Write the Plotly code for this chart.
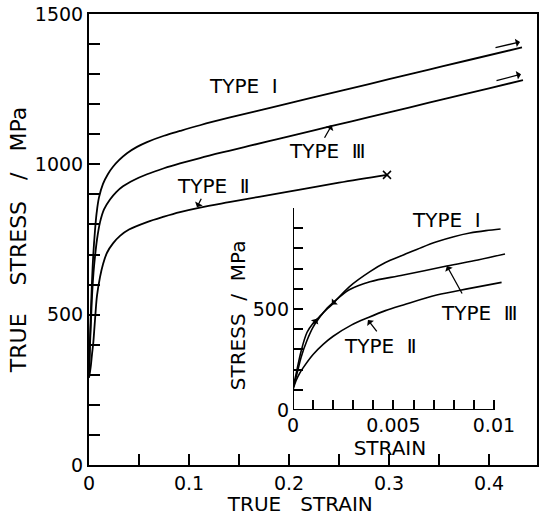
import plotly.graph_objects as go

# ---------------- data ----------------
# Main plot: true strain vs true stress (MPa)
strain_I = [0, 0.001, 0.002, 0.003, 0.0043, 0.006, 0.0077, 0.010, 0.014, 0.019, 0.024, 0.030,
            0.038, 0.048, 0.058, 0.075, 0.091, 0.111, 0.14, 0.181, 0.22, 0.26, 0.30,
            0.34, 0.38, 0.433]
stress_I = [300, 420, 520, 610, 700, 780, 840, 890, 935, 968, 992, 1014,
            1037, 1058, 1074, 1095, 1111, 1130, 1155, 1188, 1219, 1251, 1283,
            1315, 1347, 1389]

strain_III = [0, 0.001, 0.002, 0.003, 0.0045, 0.006, 0.008, 0.011, 0.015, 0.021, 0.027, 0.034,
              0.045, 0.058, 0.075, 0.091, 0.111, 0.14, 0.161, 0.181, 0.20, 0.241, 0.28, 0.32,
              0.36, 0.40, 0.434]
stress_III = [300, 400, 480, 560, 640, 693, 750, 807, 850, 883, 907, 927,
              948, 967, 987, 1003, 1021, 1045, 1062, 1078, 1093, 1126, 1157, 1189,
              1221, 1253, 1280]

strain_II = [0, 0.001, 0.002, 0.003, 0.0043, 0.0055, 0.0065, 0.008, 0.011, 0.014, 0.018, 0.024,
             0.031, 0.040, 0.058, 0.075, 0.091, 0.111, 0.14, 0.17, 0.211, 0.25, 0.298]
stress_II = [290, 310, 335, 368, 407, 460, 505, 563, 625, 668, 706, 737,
             762, 783, 808, 826, 841, 856, 874, 892, 916, 939, 965]

# Inset: small-strain region (strain vs stress)
in_strain_I = [0, 0.0002, 0.0004, 0.0007, 0.001, 0.0013, 0.0017, 0.002, 0.0028, 0.00383,
               0.0046, 0.00549, 0.0064, 0.00715, 0.0080, 0.0088, 0.0096, 0.01033]
in_stress_I = [107, 200, 290, 385, 430, 460, 500, 528, 610, 685,
               730, 767, 805, 833, 858, 876, 888, 896]

in_strain_III = [0, 0.0002, 0.0004, 0.0007, 0.001, 0.0013, 0.0017, 0.002, 0.0028, 0.00383,
                 0.00549, 0.00765, 0.0092, 0.01055]
in_stress_III = [107, 180, 260, 345, 410, 455, 505, 532, 595, 635,
                 668, 713, 743, 772]

in_strain_II = [0, 0.00015, 0.00035, 0.00051, 0.001, 0.0015, 0.002, 0.0029, 0.00375,
                0.0046, 0.00549, 0.00715, 0.0088, 0.01038]
in_stress_II = [100, 145, 185, 210, 275, 325, 365, 420, 458,
                492, 520, 569, 602, 632]

# Tick values / labels
main_xtickvals = [0, 0.05, 0.1, 0.15, 0.2, 0.25, 0.3, 0.35, 0.4]
main_xticktext = ["0", "", "0.1", "", "0.2", "", "0.3", "", "0.4"]
main_ytickvals = list(range(0, 1501, 100))
main_yticktext = [str(v) if v % 500 == 0 else "" for v in main_ytickvals]
in_xtickvals = [i * 0.001 for i in range(0, 11)]
in_xticktext = ["0", "", "", "", "", "0.005", "", "", "", "", "0.01"]
in_ytickvals = list(range(0, 1001, 100))
in_yticktext = ["0", "", "", "", "", "500", "", "", "", "", ""]

FONT = "DejaVu Sans"
NB = "\u00a0"


def pad(n):
    # trailing blank space kept inside a span so it is not trimmed
    return "<span>" + NB * n + "</span>"


fig = go.Figure()
line_style = dict(color="black", width=1.8)
fig.add_trace(go.Scatter(x=strain_I, y=stress_I, mode="lines", line=line_style,
                         line_shape="spline", name="TYPE I", xaxis="x", yaxis="y"))
fig.add_trace(go.Scatter(x=strain_III, y=stress_III, mode="lines", line=line_style,
                         line_shape="spline", name="TYPE III", xaxis="x", yaxis="y"))
fig.add_trace(go.Scatter(x=strain_II, y=stress_II, mode="lines", line=line_style,
                         line_shape="spline", name="TYPE II", xaxis="x", yaxis="y"))
fig.add_trace(go.Scatter(x=[strain_II[-1]], y=[stress_II[-1]], mode="markers",
                         marker=dict(symbol="x-thin", size=8, line=dict(color="black", width=1.5)),
                         name="fracture", xaxis="x", yaxis="y"))

in_line = dict(color="black", width=1.6)
fig.add_trace(go.Scatter(x=in_strain_I, y=in_stress_I, mode="lines", line=in_line,
                         line_shape="spline", name="TYPE I (inset)", xaxis="x2", yaxis="y2"))
fig.add_trace(go.Scatter(x=in_strain_III, y=in_stress_III, mode="lines", line=in_line,
                         line_shape="spline", name="TYPE III (inset)", xaxis="x2", yaxis="y2"))
fig.add_trace(go.Scatter(x=in_strain_II, y=in_stress_II, mode="lines", line=in_line,
                         line_shape="spline", name="TYPE II (inset)", xaxis="x2", yaxis="y2"))

tickfont = dict(family=FONT, size=19, color="black")

fig.update_layout(
    template="none",
    width=541, height=516,
    margin=dict(l=89, r=4, t=14, b=51, autoexpand=False),
    paper_bgcolor="white", plot_bgcolor="white",
    showlegend=False,
    font=dict(family=FONT, size=19, color="black"),
    xaxis=dict(range=[0, 0.448], domain=[0, 1], anchor="y", automargin=False,
               showline=True, linecolor="black", linewidth=2, mirror=True,
               ticks="inside", ticklen=11, tickwidth=1.5, tickcolor="black",
               tickvals=main_xtickvals, ticktext=main_xticktext, tickfont=tickfont,
               showgrid=False, zeroline=False,
               title=dict(text="TRUE" + NB * 3 + "STRAIN" + pad(4),
                          font=dict(family=FONT, size=20), standoff=4)),
    yaxis=dict(range=[0, 1500], domain=[0, 1], anchor="x", automargin=False,
               showline=True, linecolor="black", linewidth=2, mirror=True,
               ticks="inside", ticklen=11, tickwidth=1.5, tickcolor="black",
               tickvals=main_ytickvals, ticktext=main_yticktext, tickfont=tickfont,
               showgrid=False, zeroline=False,
               title=dict(text="TRUE" + NB * 4 + "STRESS" + NB * 3 + "/" + NB * 3 + "MPa",
                          font=dict(family=FONT, size=22), standoff=2)),
    xaxis2=dict(range=[0, 0.0106], domain=[0.45536, 0.93080], anchor="y2", automargin=False,
                showline=False, ticks="inside", ticklen=10, tickwidth=1.5, tickcolor="black",
                tickvals=in_xtickvals, ticktext=in_xticktext, tickfont=tickfont,
                ticklabelstandoff=2,
                showgrid=False, zeroline=False,
                title=dict(text="STRAIN" + pad(3), font=dict(family=FONT, size=20), standoff=0)),
    yaxis2=dict(range=[0, 1000], domain=[0.12195, 0.56984], anchor="x2", automargin=False,
                showline=False, ticks="inside", ticklen=10, tickwidth=1.5, tickcolor="black",
                tickvals=in_ytickvals, ticktext=in_yticktext, tickfont=tickfont,
                ticklabelstandoff=3,
                showgrid=False, zeroline=False,
                title=dict(text="STRESS" + NB * 2 + "/" + NB * 2 + "MPa" + pad(2),
                           font=dict(family=FONT, size=20), standoff=1)),
)

# inset axis lines (end at 0.01 and 1000)
fig.add_shape(type="line", xref="x2", yref="y2", x0=0, y0=0, x1=0.01, y1=0,
              line=dict(color="black", width=2))
fig.add_shape(type="line", xref="x2", yref="y2", x0=0, y0=0, x1=0, y1=1000,
              line=dict(color="black", width=2))

lab_font = dict(family=FONT, size=20, color="black")
labels = [
    ("x", "y", 0.154, 1260, "TYPE" + NB * 2 + "Ⅰ"),
    ("x", "y", 0.238, 1043, "TYPE" + NB * 2 + "Ⅲ"),
    ("x", "y", 0.124, 927, "TYPE" + NB * 2 + "Ⅱ"),
    ("x2", "y2", 0.00766, 940, "TYPE" + NB * 2 + "Ⅰ"),
    ("x2", "y2", 0.0093, 480, "TYPE" + NB * 2 + "Ⅲ"),
    ("x2", "y2", 0.00433, 317, "TYPE" + NB * 2 + "Ⅱ"),
]
for xr, yr, x, y, t in labels:
    fig.add_annotation(xref=xr, yref=yr, x=x, y=y, text=t, showarrow=False, font=lab_font)

arrows = [
    ("x", "y", 0.2427, 1130, -8, 14),
    ("x", "y", 0.108, 857, 5, -10),
    ("x", "y", 0.431, 1407, -26, 6),
    ("x", "y", 0.432, 1300, -26, 7),
    ("x2", "y2", 0.00766, 713, 16, 29),
    ("x2", "y2", 0.00373, 446, 10, 13),
    ("x2", "y2", 0.00118, 452, -4, 7),
    ("x2", "y2", 0.00193, 522, 5, -5),
]
for xr, yr, x, y, ax, ay in arrows:
    fig.add_annotation(xref=xr, yref=yr, x=x, y=y, ax=ax, ay=ay, text="",
                       showarrow=True, arrowhead=1, arrowsize=1.1, arrowwidth=1.3,
                       arrowcolor="black")

fig.write_html("out.html")
